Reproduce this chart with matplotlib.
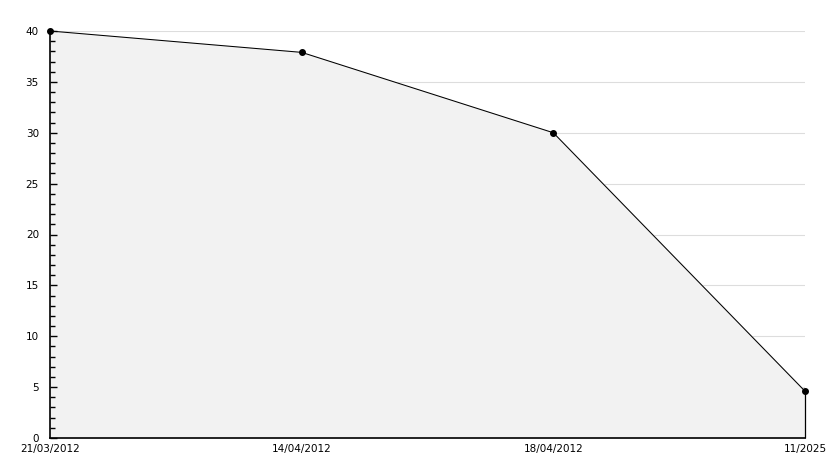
import matplotlib.pyplot as plt
from matplotlib.ticker import MultipleLocator

dates = ["21/03/2012", "14/04/2012", "18/04/2012", "11/2025"]
values = [40, 37.9, 30.0, 4.6]
grid_levels = [5, 10, 15, 20, 25, 30, 35, 40]

fig = plt.figure(figsize=(8.34, 4.68), dpi=100)
ax = fig.add_axes([50 / 834, 30 / 468, 755 / 834, 407 / 468])

x = list(range(len(dates)))
# grid under the filled area, like the original
for lvl in grid_levels:
    ax.axhline(lvl, color="#dddddd", linewidth=0.8, zorder=0.5)
ax.fill_between(x, values, 0, color="#f2f2f2", zorder=1)
ax.plot(x, values, color="black", linewidth=0.75, marker="o", markersize=4,
        zorder=3, clip_on=False)
ax.vlines(x[-1], 0, values[-1], color="black", linewidth=0.9, zorder=3, clip_on=False)

ax.set_xlim(0, len(dates) - 1)
ax.set_ylim(0, 40)
ax.set_xticks(x)
ax.set_xticklabels(dates)
ax.yaxis.set_major_locator(MultipleLocator(5))
ax.yaxis.set_minor_locator(MultipleLocator(1))
ax.set_axisbelow(False)

for side in ("top", "right"):
    ax.spines[side].set_visible(False)
for side in ("left", "bottom"):
    ax.spines[side].set_linewidth(1.2)
    ax.spines[side].set_zorder(4)

ax.tick_params(axis="y", which="major", direction="in", length=5, width=1, labelsize=7.5, pad=8)
ax.tick_params(axis="y", which="minor", direction="in", length=3.5, width=1)
ax.tick_params(axis="x", length=0, labelsize=7.5, pad=4)

fig.savefig("out.png", dpi=100)
